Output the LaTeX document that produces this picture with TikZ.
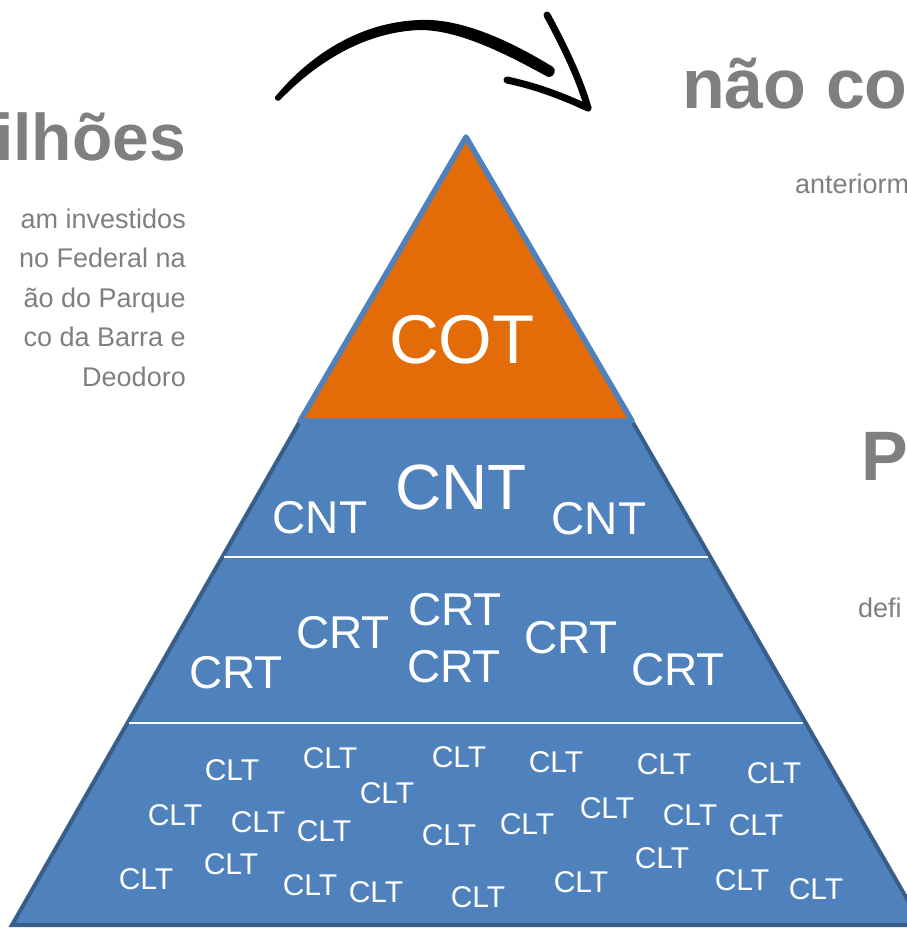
\documentclass[tikz,border=0pt]{standalone}
\usepackage{fontspec}
\setmainfont{Liberation Sans}
\definecolor{pblue}{HTML}{4F81BD}
\definecolor{pdark}{HTML}{385D8A}
\definecolor{porange}{HTML}{E36C09}
\definecolor{tgray}{HTML}{7F7F7F}
\begin{document}
\begin{tikzpicture}[x=1pt,y=-1pt,
  headtxt/.style={text=tgray, inner sep=0, font=\fontsize{66}{66}\selectfont\bfseries},
  headbig/.style={text=tgray, inner sep=0, font=\fontsize{70}{70}\selectfont\bfseries},
  bodytxt/.style={text=tgray, inner sep=0, font=\fontsize{27}{27}\selectfont},
  lvl/.style={text=white, inner sep=0},
  cottxt/.style={lvl, font=\fontsize{69}{69}\selectfont},
  cntbig/.style={lvl, font=\fontsize{64}{64}\selectfont},
  cnttxt/.style={lvl, font=\fontsize{46}{46}\selectfont},
  crttxt/.style={lvl, font=\fontsize{46}{46}\selectfont},
  clttxt/.style={lvl, font=\fontsize{30}{30}\selectfont},
  sepline/.style={white, line width=2pt},
  barb/.style={black, line width=7pt, line cap=round}
]
\useasboundingbox (0,0) rectangle (907,929);

% pyramid body
\fill[pblue, draw=pdark, line width=4pt, line join=miter]
  (300,421) -- (632,421) -- (922,925) -- (12,925) -- cycle;
\draw[sepline] (224,557) -- (708,557);
\draw[sepline] (129,723) -- (803,723);
% apex
\fill[porange, draw=pblue, line width=5.5pt, line join=round]
  (466,137) -- (632,421) -- (300,421) -- cycle;

% left texts
\node[headtxt, anchor=base east] (h1) at (186,160) {bilhões};
\node[bodytxt, anchor=base east] (b1) at (186,228) {am investidos};
\node[bodytxt, anchor=base east] (b2) at (186,267) {no Federal na};
\node[bodytxt, anchor=base east] (b3) at (186,307) {ão do Parque};
\node[bodytxt, anchor=base east] (b4) at (186,346) {co da Barra e};
\node[bodytxt, anchor=base east] (b5) at (186,386) {Deodoro};

% right texts
\node[headbig, anchor=base west] (h2) at (682,108) {não co};
\node[bodytxt, anchor=base west] (r1) at (795,193) {anteriorm};
\node[headbig, anchor=base west] (h3) at (861,480) {P};
\node[bodytxt, anchor=base west] (r2) at (858,617) {defi};

% arrow
\fill[black]
  (275,97) .. controls (308,57) and (358,22) .. (420,20)
  .. controls (463,18) and (514,43) .. (553,67)
  .. controls (557,70) and (554,78) .. (548,77)
  .. controls (508,55) and (460,30) .. (420,30)
  .. controls (362,32) and (314,65) .. (280,100)
  .. controls (278,102) and (274,100) .. cycle;
\coordinate (tip) at (588,108);
\coordinate (ub) at (547,15);
\coordinate (lb) at (507,80);
\draw[barb] (ub) .. controls (565,48) and (580,80) .. (tip);
\draw[barb] (lb) .. controls (535,86) and (560,95) .. (tip);

% pyramid texts
\node[cottxt] (cot) at (462,340) {COT};
\node[cntbig] (cnt0) at (461,487) {CNT};
\node[cnttxt] (cnt1) at (320,518) {CNT};
\node[cnttxt] (cnt2) at (599,519) {CNT};

\node[crttxt] (crt1) at (236,673) {CRT};
\node[crttxt] (crt2) at (343,633) {CRT};
\node[crttxt] (crt3) at (455,610) {CRT};
\node[crttxt] (crt4) at (454,667) {CRT};
\node[crttxt] (crt5) at (571,638) {CRT};
\node[crttxt] (crt6) at (678,670) {CRT};

\node[clttxt] (c1) at (232,770) {CLT};
\node[clttxt] (c2) at (330,758) {CLT};
\node[clttxt] (c3) at (387,793) {CLT};
\node[clttxt] (c4) at (459,757) {CLT};
\node[clttxt] (c5) at (556,762) {CLT};
\node[clttxt] (c6) at (664,764) {CLT};
\node[clttxt] (c7) at (774,773) {CLT};
\node[clttxt] (c8) at (175,815) {CLT};
\node[clttxt] (c9) at (258,822) {CLT};
\node[clttxt] (c10) at (324,831) {CLT};
\node[clttxt] (c11) at (449,835) {CLT};
\node[clttxt] (c12) at (527,824) {CLT};
\node[clttxt] (c13) at (607,808) {CLT};
\node[clttxt] (c14) at (690,815) {CLT};
\node[clttxt] (c15) at (756,825) {CLT};
\node[clttxt] (c16) at (146,879) {CLT};
\node[clttxt] (c17) at (231,864) {CLT};
\node[clttxt] (c18) at (310,885) {CLT};
\node[clttxt] (c19) at (376,892) {CLT};
\node[clttxt] (c20) at (478,897) {CLT};
\node[clttxt] (c21) at (581,882) {CLT};
\node[clttxt] (c22) at (662,858) {CLT};
\node[clttxt] (c23) at (742,880) {CLT};
\node[clttxt] (c24) at (816,889) {CLT};
\end{tikzpicture}
\end{document}
